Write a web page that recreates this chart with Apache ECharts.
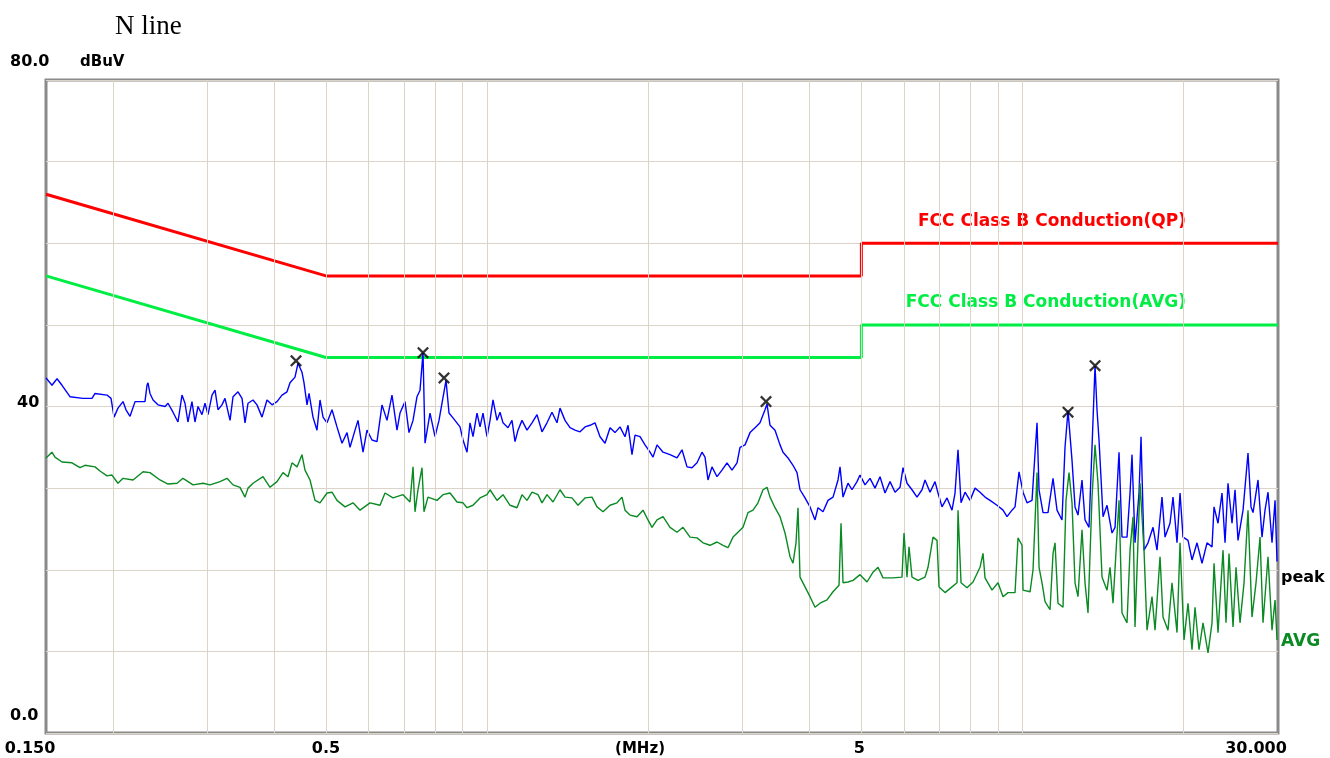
<!DOCTYPE html>
<html><head><meta charset="utf-8">
<script src="https://cdn.jsdelivr.net/npm/echarts@6/dist/echarts.min.js"></script>
<style>html,body{margin:0;padding:0;background:#fff}#c{width:1330px;height:758px}</style>
</head><body><div id="c"></div>
<script>
// ---------- data ----------
const titleText = 'N line';
const yUnit = 'dBuV';
const xUnit = '(MHz)';
const xTickValues = [0.15, 0.5, 5, 30];
const xTickLabels = ['0.150', '0.5', '5', '30.000'];
const yTickValues = [0, 40, 80];
const yTickLabels = ['0.0', '40', '80.0'];
const gridFreqs = [0.2, 0.3, 0.4, 0.5, 0.6, 0.7, 0.8, 0.9, 1, 2, 3, 4, 5, 6, 7, 8, 9, 10, 20];

const qpName = 'FCC Class B Conduction(QP)';
const qpFreq = [0.15, 0.5, 5, 5, 30];
const qpLevel = [66, 56, 56, 60, 60];
const avgLimName = 'FCC Class B Conduction(AVG)';
const avgLimFreq = [0.15, 0.5, 5, 5, 30];
const avgLimLevel = [56, 46, 46, 50, 50];

const peakName = 'peak';
const peakFreq = [0.150,0.1539,0.1573,0.1607,0.1663,0.1759,0.1828,0.1852,0.1950,0.1984,0.2010,0.2044,0.2089,0.2116,0.2153,0.2200,0.2247,0.2296,0.2316,0.2326,0.2346,0.2377,0.2428,0.2503,0.2535,0.2590,0.2646,0.2692,0.2727,0.2762,0.2810,0.2847,0.2884,0.2934,0.2972,0.3011,0.3063,0.3103,0.3143,0.3197,0.3239,0.3310,0.3353,0.3425,0.3485,0.3530,0.3576,0.3654,0.3717,0.3798,0.3880,0.3965,0.4051,0.4139,0.4229,0.4284,0.4377,0.4434,0.4510,0.4550,0.4609,0.4649,0.4729,0.4811,0.4874,0.4937,0.5023,0.5132,0.5243,0.5357,0.5474,0.5545,0.5666,0.5739,0.5864,0.5965,0.6095,0.6227,0.6363,0.6501,0.6642,0.6787,0.6875,0.7025,0.7146,0.7271,0.7396,0.7493,0.7590,0.7656,0.7822,0.7992,0.8130,0.8379,0.8488,0.8635,0.8899,0.9015,0.9171,0.9290,0.9411,0.9574,0.9699,0.9824,0.9995,1.0125,1.0256,1.0434,1.0570,1.0707,1.0939,1.1129,1.1274,1.1419,1.1617,1.1871,1.2129,1.2392,1.2661,1.2936,1.3217,1.3505,1.3681,1.3978,1.4282,1.4592,1.4910,1.5234,1.5565,1.5903,1.6250,1.6603,1.6964,1.7333,1.7709,1.8094,1.8327,1.8645,1.8889,1.9300,1.9719,2.0148,2.0409,2.0763,2.1307,2.1958,2.2628,2.3119,2.3622,2.4135,2.4660,2.5195,2.5524,2.5853,2.6302,2.6875,2.7458,2.8056,2.8665,2.9289,2.9671,3.0316,3.0975,3.1648,3.2336,3.3038,3.3323,3.3757,3.4491,3.5241,3.5698,3.6471,3.7266,3.7911,3.8406,3.9240,4.0094,4.0965,4.1494,4.2399,4.3317,4.4262,4.5221,4.5615,4.6207,4.7208,4.8027,4.9072,4.9712,5.0792,5.1897,5.3024,5.4178,5.5354,5.6558,5.7787,5.9044,5.9810,6.0844,6.2165,6.3519,6.4898,6.5745,6.7175,6.8634,6.9521,7.0727,7.2266,7.3835,7.4799,7.5765,7.6757,7.8086,7.9784,8.1518,8.3290,8.5100,8.6951,8.9604,9.1950,9.3542,9.5572,9.6820,9.8498,10.021,10.195,10.416,10.552,10.643,10.735,10.921,11.157,11.401,11.598,11.849,12.004,12.160,12.371,12.532,12.694,12.914,13.083,13.310,13.482,13.658,13.775,13.894,14.136,14.381,14.693,14.885,15.142,15.338,15.672,15.877,16.012,16.221,16.503,16.646,16.861,17.153,17.527,17.830,18.217,18.455,18.856,19.101,19.432,19.686,19.941,20.373,20.726,21.178,21.637,22.108,22.588,22.783,23.179,23.581,23.889,24.197,24.617,24.939,25.260,25.811,26.370,26.715,26.945,27.529,28.006,28.372,28.739,29.238,29.620,29.874];
const peakLevel = [43.5,42.6,43.4,42.6,41.2,41.0,41.0,41.6,41.4,41.0,38.7,39.8,40.6,39.6,38.8,40.6,40.6,40.6,42.6,42.9,41.6,40.8,40.2,40.0,40.4,39.3,38.1,41.4,40.4,38.1,40.6,38.1,40.0,39.0,40.4,39.0,41.4,42.0,39.6,40.2,41.0,38.3,41.2,41.8,41.0,38.0,40.4,40.8,40.2,38.7,40.8,40.2,40.6,41.4,41.8,42.9,43.6,45.3,44.2,42.9,40.2,41.6,38.7,37.1,40.8,38.7,38.0,39.6,37.5,35.5,36.8,35.0,37.1,38.3,34.4,37.1,35.9,35.7,40.2,38.3,41.4,37.1,39.2,40.6,36.8,38.3,41.2,42.0,46.6,35.5,39.2,36.3,38.3,43.2,39.2,38.6,37.5,35.9,34.4,38.0,36.3,39.2,37.5,39.2,36.3,38.3,40.8,38.3,39.3,38.0,37.4,38.3,35.7,37.1,38.3,37.1,38.0,39.0,36.9,38.0,39.3,38.0,39.8,38.3,37.4,37.1,36.9,37.5,37.7,38.0,36.3,35.5,37.4,36.8,37.5,36.3,37.7,34.1,36.5,36.3,35.3,34.4,33.8,35.3,34.4,34.1,33.7,34.7,32.6,32.5,33.1,34.4,33.8,31.0,32.6,31.4,32.2,33.1,32.2,33.1,35.0,35.3,36.8,37.4,38.0,39.6,40.3,37.7,37.1,35.3,34.4,33.7,32.8,31.9,29.8,28.8,27.7,26.1,27.6,27.1,28.5,28.9,31.0,32.6,28.9,30.6,29.8,30.8,31.6,30.4,31.2,30.0,31.4,29.4,30.8,29.5,30.1,32.5,30.6,29.8,28.9,29.8,31.0,29.5,30.8,29.4,27.7,28.8,27.3,29.4,34.7,28.2,29.5,28.5,30.0,29.5,28.9,28.5,27.9,27.3,26.5,27.3,27.7,32.0,29.5,28.2,28.5,34.3,38.0,29.8,27.0,27.0,31.2,27.3,26.1,35.0,39.5,33.4,27.7,26.7,31.0,26.1,25.2,35.0,45.0,39.6,35.9,26.5,27.9,24.5,25.2,34.4,24.0,24.0,29.4,34.1,23.3,29.4,36.3,22.4,23.3,25.2,22.4,28.9,24.0,25.7,28.9,23.3,29.4,24.0,23.6,21.2,23.3,20.8,23.3,22.8,27.7,25.7,29.4,23.3,30.6,25.7,29.8,23.6,27.3,34.3,27.7,27.0,31.0,24.0,27.3,29.5,23.3,28.5,21.0];

const avgName = 'AVG';
const avgFreq = [0.150,0.1539,0.1559,0.1607,0.1677,0.1736,0.1774,0.1852,0.1892,0.1950,0.1992,0.2044,0.2089,0.2181,0.2277,0.2346,0.2449,0.2535,0.2635,0.2704,0.2823,0.2947,0.3037,0.3170,0.3267,0.3353,0.3455,0.3530,0.3576,0.3654,0.3814,0.3931,0.4051,0.4157,0.4247,0.4321,0.4415,0.4510,0.4569,0.4669,0.4770,0.4874,0.5023,0.5132,0.5243,0.5427,0.5617,0.5789,0.6043,0.6309,0.6446,0.6671,0.6965,0.7177,0.7271,0.7333,0.7428,0.7557,0.7622,0.7754,0.8061,0.8272,0.8525,0.8785,0.9015,0.9171,0.9411,0.9699,0.9995,1.0125,1.0434,1.0707,1.1035,1.1371,1.1617,1.1871,1.2129,1.2445,1.2661,1.2936,1.3275,1.3681,1.3978,1.4404,1.4781,1.5234,1.5698,1.6041,1.6461,1.6964,1.7481,1.7860,1.8094,1.8487,1.9052,1.9550,1.9973,2.0320,2.0763,2.1307,2.1958,2.2628,2.3220,2.3930,2.4660,2.5305,2.6079,2.6875,2.7579,2.8176,2.8791,2.9415,3.0056,3.0707,3.1377,3.2056,3.2756,3.3323,3.3757,3.4491,3.5241,3.6006,3.6789,3.7266,3.7749,3.8074,3.8406,3.9240,4.0094,4.0965,4.1856,4.3133,4.4262,4.5418,4.5812,4.6207,4.7208,4.8237,4.9712,5.1228,5.2570,5.3709,5.4881,5.7292,5.9549,6.0065,6.0844,6.1372,6.2165,6.3791,6.5745,6.6594,6.8046,6.9224,6.9824,7.1651,7.3835,7.5442,7.5765,7.6757,7.8757,8.0820,8.3290,8.4371,8.5100,8.7695,8.9987,9.1950,9.3942,9.6820,9.8070,9.9772,10.021,10.328,10.462,10.643,10.735,10.874,11.016,11.255,11.401,11.499,11.647,11.901,12.056,12.213,12.371,12.532,12.694,12.914,13.083,13.252,13.482,13.658,13.834,14.074,14.381,14.568,14.757,15.142,15.338,15.672,15.877,16.082,16.221,16.574,16.861,17.080,17.451,17.679,18.063,18.297,18.693,19.018,19.432,19.686,20.026,20.373,20.726,20.997,21.361,21.732,22.202,22.588,22.783,23.179,23.684,23.991,24.303,24.725,25.045,25.481,25.922,26.370,26.827,27.294,27.769,28.129,28.739,29.238,29.620,29.874];
const avgLevel = [33.7,34.4,33.8,33.2,33.1,32.5,32.8,32.6,32.1,31.5,31.6,30.6,31.2,31.0,32.0,31.9,31.0,30.5,30.6,31.2,30.4,30.6,30.4,30.8,31.2,30.4,30.1,28.9,30.0,30.6,31.4,30.1,30.8,31.9,31.4,33.1,32.6,34.1,32.2,31.0,28.5,28.2,29.4,29.5,28.5,27.7,28.2,27.3,28.2,27.9,29.4,28.8,29.2,28.3,32.6,27.1,29.8,32.5,27.1,28.9,28.5,29.2,29.4,28.3,28.2,27.6,27.9,28.8,29.2,29.8,28.5,29.2,27.9,27.6,29.2,28.5,29.5,29.2,28.2,29.2,28.3,29.8,28.9,28.8,27.9,28.8,28.9,27.7,27.1,27.9,28.2,28.9,27.3,26.7,26.5,27.3,26.1,25.2,26.1,26.5,25.2,24.6,25.2,24.0,23.9,23.3,23.0,23.4,23.0,22.7,24.0,24.6,25.2,27.0,27.3,28.2,29.8,30.1,28.9,27.6,26.5,24.5,21.6,20.8,23.3,27.6,19.1,17.9,16.7,15.4,15.9,16.3,17.3,18.1,25.7,18.4,18.5,18.7,19.4,18.5,19.7,20.3,19.0,19.0,19.1,24.5,19.1,22.8,19.1,18.7,19.1,20.3,24.0,23.6,17.9,17.2,17.9,18.4,27.3,18.4,17.8,18.5,20.3,22.0,19.0,17.5,18.4,16.7,17.2,17.2,23.9,23.0,17.5,17.3,20.0,31.9,20.3,18.4,16.1,15.1,22.0,23.3,15.9,15.4,28.5,31.9,28.2,18.4,16.7,24.9,18.4,14.7,28.9,35.3,30.6,19.1,17.5,20.3,15.9,28.5,14.7,13.5,22.4,26.5,13.0,30.6,22.4,12.6,16.7,12.6,21.6,14.2,12.6,18.4,12.3,23.3,11.4,15.9,10.2,15.4,10.2,13.5,9.8,13.5,20.8,12.3,22.4,13.5,22.0,13.0,20.3,13.5,18.4,27.3,14.2,18.4,24.0,13.5,21.6,12.6,16.3,11.4];

const markerFreq = [0.4396, 0.759, 0.8307, 3.318, 12.16, 13.66];
const markerLevel = [45.6, 46.6, 43.5, 40.6, 39.3, 45.0];

// ---------- chart ----------
const zip = (a, b) => a.map((v, i) => [v, b[i]]);
const chart = echarts.init(document.getElementById('c'), null, {renderer: 'canvas'});
const gridColor = '#ddd4c9';
const xMark = 'path://M0,1.6L1.6,0L6,4.4L10.4,0L12,1.6L7.6,6L12,10.4L10.4,12L6,7.6L1.6,12L0,10.4L4.4,6Z';

chart.setOption({
  animation: false,
  backgroundColor: '#ffffff',
  grid: {left: 46, right: 52, top: 80, bottom: 25, show: true, borderColor: '#8a8a8a', borderWidth: 3, backgroundColor: 'transparent'},
  xAxis: {type: 'log', logBase: 10, min: 0.15, max: 30,
    axisLine: {show: false}, axisTick: {show: false}, axisLabel: {show: false}, splitLine: {show: false}},
  yAxis: {type: 'value', min: 0, max: 80, interval: 10,
    axisLine: {show: false}, axisTick: {show: false}, axisLabel: {show: false},
    splitLine: {show: true, lineStyle: {color: gridColor, width: 1}}},
  series: [
    {type: 'line', name: 'grid', data: [], silent: true, z: 1,
     markLine: {silent: true, symbol: 'none', label: {show: false},
       lineStyle: {color: gridColor, width: 1, type: 'solid'},
       data: gridFreqs.map(f => ({xAxis: f}))}},
    {type: 'line', name: qpName, data: zip(qpFreq, qpLevel), showSymbol: false, z: 3,
     lineStyle: {color: '#ff0000', width: 3}},
    {type: 'line', name: avgLimName, data: zip(avgLimFreq, avgLimLevel), showSymbol: false, z: 3,
     lineStyle: {color: '#00ee44', width: 3}},
    {type: 'line', name: peakName, data: zip(peakFreq, peakLevel), showSymbol: false, z: 4,
     lineStyle: {color: '#0000ff', width: 1.4}},
    {type: 'line', name: avgName, data: zip(avgFreq, avgLevel), showSymbol: false, z: 5,
     lineStyle: {color: '#0a8a22', width: 1.4}},
    {type: 'scatter', name: 'markers', data: zip(markerFreq, markerLevel), z: 6,
     symbol: xMark, symbolSize: 12, itemStyle: {color: '#000000'}}
  ]
});

// text placed through the axes' scales
const px = (f, v) => chart.convertToPixel({gridIndex: 0}, [f, v]);
const g = [];
const fontB = (s) => 'bold ' + s + 'px "DejaVu Sans", sans-serif';
g.push({type: 'text', x: 115, y: 27, style: {text: titleText, font: '27px "Liberation Serif", "DejaVu Serif", serif', fill: '#000', verticalAlign: 'middle'}});
const yLabelLeft = [10, 17, 10];
const yLabelDy = [-17, -4, -18];
yTickValues.forEach((v, i) => {
  const p = px(0.15, v);
  g.push({type: 'text', x: yLabelLeft[i], y: p[1] + yLabelDy[i], style: {text: yTickLabels[i], font: fontB(16), fill: '#000', verticalAlign: 'middle'}});
});
{
  const p = px(0.15, 80);
  g.push({type: 'text', x: 80, y: p[1] - 18, style: {text: yUnit, font: fontB(15), fill: '#000', verticalAlign: 'middle'}});
}
const xLabelDx = [-16, 0, -2, -22];
xTickValues.forEach((f, i) => {
  const p = px(f, 0);
  g.push({type: 'text', x: p[0] + xLabelDx[i], y: p[1] + 16, style: {text: xTickLabels[i], font: fontB(16), fill: '#000', align: 'center', verticalAlign: 'middle'}});
});
{
  const p = px(1.93, 0);
  g.push({type: 'text', x: p[0], y: p[1] + 16, style: {text: xUnit, font: fontB(15), fill: '#000', align: 'center', verticalAlign: 'middle'}});
}
{
  const p1 = px(20.2, 62);
  g.push({type: 'text', x: p1[0], y: 222, style: {text: qpName, font: fontB(17), fill: '#ff0000', align: 'right', verticalAlign: 'middle'}});
  g.push({type: 'text', x: p1[0], y: 303, style: {text: avgLimName, font: fontB(17), fill: '#00ee44', align: 'right', verticalAlign: 'middle'}});
  const pe = px(30, 19);
  g.push({type: 'text', x: pe[0] + 3, y: 578, style: {text: peakName, font: fontB(16), fill: '#000', verticalAlign: 'middle'}});
  g.push({type: 'text', x: pe[0] + 3, y: 642, style: {text: avgName, font: fontB(17), fill: '#0a8a22', verticalAlign: 'middle'}});
}
chart.setOption({graphic: g});
</script>
</body></html>
